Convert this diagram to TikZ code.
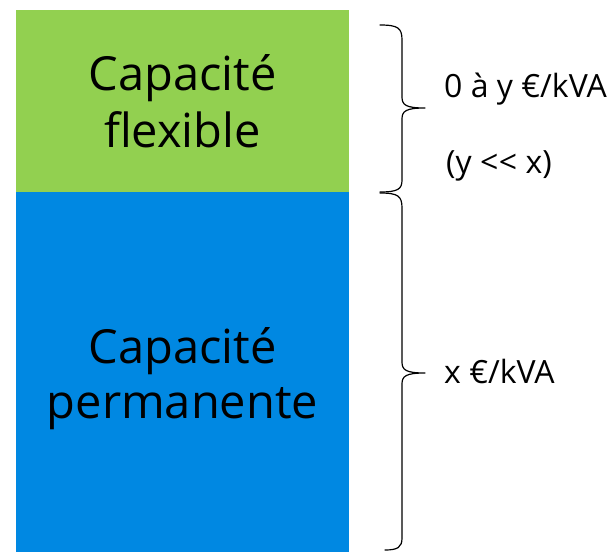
\documentclass[tikz,border=0pt]{standalone}
\usepackage{fontspec}
\setmainfont{Open Sans}
\definecolor{flexgreen}{RGB}{146,208,80}
\definecolor{permblue}{RGB}{0,136,226}
\begin{document}
\begin{tikzpicture}[x=1pt,y=-1pt,
  bigtxt/.style={font=\fontsize{47}{56}\selectfont, align=center, inner sep=0pt},
  sidetxt/.style={font=\fontsize{32}{36}\selectfont, anchor=base west, inner sep=0pt},
  bracepath/.style={draw=black, line width=1.2pt, line cap=round, line join=round}]
\useasboundingbox (0,0) rectangle (610,552);
\fill[flexgreen] (16,10) rectangle (349,192);
\fill[permblue] (16,192) rectangle (349,552);
\node[bigtxt, anchor=base] (cf1) at (182.5,90) {Capacité};
\node[bigtxt, anchor=base] (cf2) at (182.5,147) {flexible};
\node[bigtxt, anchor=base] (cp1) at (182.5,363) {Capacité};
\node[bigtxt, anchor=base] (cp2) at (182.5,418) {permanente};
\node[sidetxt] (t1) at (444,97) {0 à y €/kVA};
\node[sidetxt] (t2) at (446,173) {(y \mbox{<}\kern0.5pt\mbox{<} x)};
\node[sidetxt] (t3) at (444,383) {x €/kVA};
% upper brace
\draw[bracepath] (380,25) .. controls (398,25) and (402,28) .. (402,40) -- (402,97)
  .. controls (402,105) and (406,108) .. (425,108)
  .. controls (406,108) and (402,111) .. (402,119) -- (402,180)
  .. controls (402,189) and (398,192) .. (380,192);
% lower brace
\draw[bracepath] (380,193) .. controls (398,193) and (402,196) .. (402,208) -- (402,362)
  .. controls (402,370) and (406,373) .. (425,373)
  .. controls (406,373) and (402,376) .. (402,384) -- (402,538)
  .. controls (402,547) and (398,550) .. (385,550);
\end{tikzpicture}
\end{document}
